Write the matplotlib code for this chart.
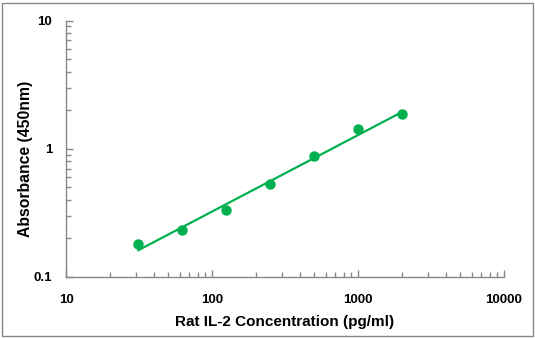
import numpy as np
import matplotlib.pyplot as plt
from matplotlib.patches import Rectangle

plt.rcParams['font.family'] = ['Liberation Sans', 'DejaVu Sans']

conc = [31.25, 62.5, 125, 250, 500, 1000, 2000]
od = [0.181, 0.232, 0.332, 0.530, 0.875, 1.42, 1.86]

green = '#00b050'
grey = '#878787'

fig = plt.figure(figsize=(5.35, 3.38), dpi=100)
ax = fig.add_axes([0.1234, 0.1805, 0.8187, 0.7588])

# standard curve fitted in log-log space
lx = np.log10(conc)
ly = np.log10(od)
k, b = np.polyfit(lx, ly, 1)
xf = np.logspace(lx[0], lx[-1], 50)
ax.plot(xf, 10 ** (k * np.log10(xf) + b), color=green, lw=1.6)
ax.plot(conc, od, 'o', color=green, ms=6.5, mec=green)

ax.set_xscale('log')
ax.set_yscale('log')
ax.set_xlim(10, 10000)
ax.set_ylim(0.1, 10)

for s in ['top', 'right']:
    ax.spines[s].set_visible(False)
for s in ['left', 'bottom']:
    ax.spines[s].set_color(grey)
    ax.spines[s].set_linewidth(1)

ax.tick_params(which='major', direction='in', color=grey, length=5, width=1)
ax.tick_params(which='minor', direction='in', color=grey, length=3.5, width=1)
ax.tick_params(axis='x', which='major', pad=12)
ax.tick_params(axis='y', which='major', pad=10)
ax.set_xticks([10, 100, 1000, 10000])
ax.set_xticklabels(['10', '100', '1000', '10000'], fontsize=9.5, fontweight='bold')
ax.set_yticks([0.1, 1, 10])
ax.set_yticklabels(['0.1', '1', '10'], fontsize=9.5, fontweight='bold')
ax.xaxis.set_minor_formatter(plt.NullFormatter())
ax.yaxis.set_minor_formatter(plt.NullFormatter())

ax.set_xlabel('Rat IL-2 Concentration (pg/ml)', fontsize=11, fontweight='bold', labelpad=7)
ax.set_ylabel('Absorbance (450nm)', fontsize=11.3, fontweight='bold')
ax.yaxis.set_label_coords(-0.076, 0.46)

fig.patches.append(Rectangle((0.0037, 0.0059), 0.9925, 0.985, transform=fig.transFigure,
                             fill=False, edgecolor=grey, lw=1))

fig.savefig('out.png', dpi=100)
